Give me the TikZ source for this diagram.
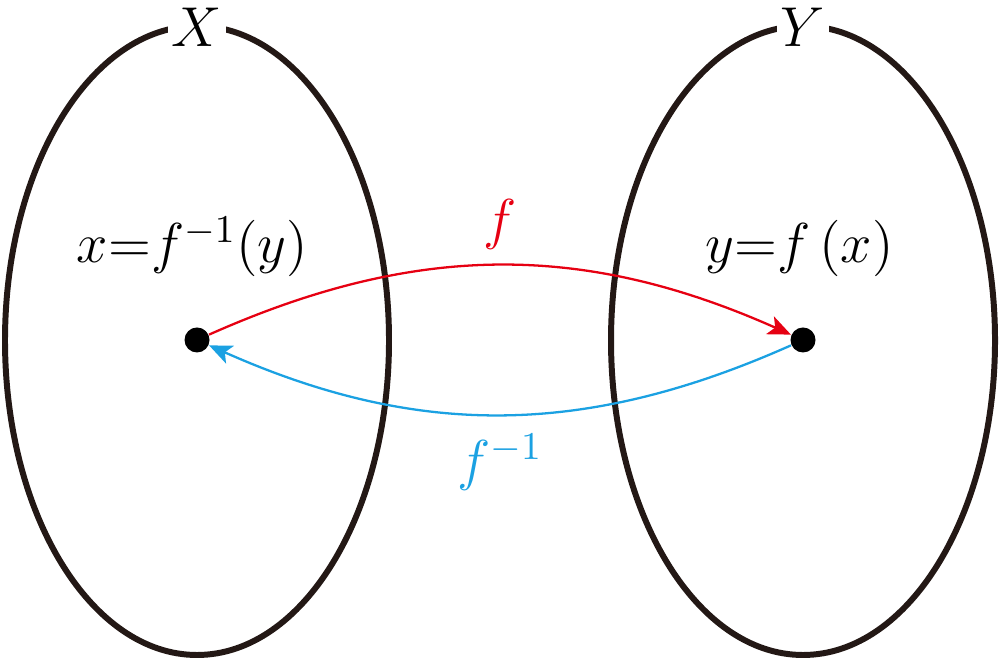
\RequirePackage{fix-cm}
\documentclass[tikz,border=0pt]{standalone}
\usepackage{amsmath}
\usepackage{tikz}
\usetikzlibrary{arrows.meta}
\definecolor{setblack}{HTML}{231815}
\definecolor{mapred}{HTML}{E60012}
\definecolor{mapblue}{HTML}{1BA1E2}

\begin{document}
\begin{tikzpicture}[
	font=\fontsize{16}{19}\selectfont,
	setline/.style={line width=1.7pt, draw=setblack},
	pt/.style={circle, fill=black, inner sep=0pt, minimum size=0.25cm},
	maparrow/.style={line width=0.65pt, -{Stealth[length=6.5pt,width=5.5pt,inset=1.6pt]}}
]
\useasboundingbox (0,0) rectangle (10,6.59);
%the two sets
\draw [setline] (1.97,3.185) ellipse (1.92cm and 3.145cm);
\draw [setline] (8.03,3.185) ellipse (1.92cm and 3.145cm);
\node (X) [fill=white, inner xsep=0.04cm, inner ysep=0.02cm] at (1.97,6.315) {$X$};
\node (Y) [fill=white, inner xsep=0.04cm, inner ysep=0.02cm] at (8.03,6.315) {$Y$};
%points and their names
\node (px) [pt] at (1.97,3.19) {};
\node (py) [pt] at (8.03,3.19) {};
\node (lx) [anchor=base] at (1.925,3.96) {$x{=}f^{-1}(y)$};
\node (ly) [anchor=base] at (7.995,3.96) {$y{=}f\,(x)$};
%the map and its inverse
\draw [maparrow, mapred] (px) to[bend left=24]
	node (lf) [midway, above=0.15cm, inner sep=0pt] {$f$} (py);
\draw [maparrow, mapblue] (py) to[bend left=24]
	node (lfinv) [midway, below=0.18cm, inner sep=0pt] {$f^{-1}$} (px);
\end{tikzpicture}
\end{document}
